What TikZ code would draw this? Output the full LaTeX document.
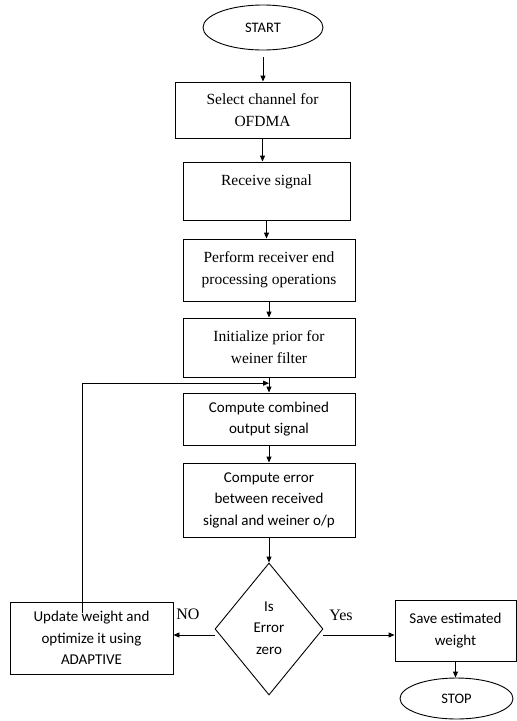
\documentclass[tikz,border=0pt]{standalone}
\usepackage{fontspec}
\setmainfont{Liberation Serif}
\newfontfamily\calfont{Carlito}
\usetikzlibrary{shapes.geometric,arrows.meta,calc}
\tikzset{
  box/.style={draw,line width=0.9pt,align=center,inner sep=2pt},
  serifbox/.style={box,font=\fontsize{15.5}{22}\selectfont},
  sansbox/.style={box,font=\calfont\fontsize{15}{21.5}\selectfont},
  term/.style={draw,line width=0.9pt,ellipse,inner sep=0pt,font=\calfont\fontsize{14.5}{16}\selectfont},
  arr/.style={line width=0.9pt,-{Triangle[length=6pt,width=5pt]}},
  lab/.style={font=\fontsize{16}{18}\selectfont,inner sep=0pt}
}
\begin{document}
\begin{tikzpicture}[x=1pt,y=-1pt]
\useasboundingbox (0,0) rectangle (517,721);
\node[term,minimum width=120pt,minimum height=45pt] (start) at (263,27.5) {START};
\node[serifbox,minimum width=175pt,minimum height=56pt] (b1) at (262.5,110) {Select channel for\\OFDMA};
\node[serifbox,minimum width=167pt,minimum height=58pt] (b2) at (266.5,191) {Receive signal\\\mbox{}};
\node[serifbox,minimum width=172pt,minimum height=62pt] (b3) at (269,270) {Perform receiver end\\processing operations};
\node[serifbox,minimum width=172pt,minimum height=59pt] (b4) at (269,347.5) {Initialize prior for\\weiner filter};
\node[sansbox,minimum width=172pt,minimum height=52pt] (b5) at (269,419) {Compute combined\\output signal};
\node[sansbox,minimum width=172pt,minimum height=74pt] (b6) at (269,500) {Compute error\\between received\\signal and weiner o/p};
\node[draw,line width=0.9pt,diamond,minimum width=108pt,minimum height=132pt,inner sep=0pt] (dia) at (269,629) {};
\node[font=\calfont\fontsize{15}{21.5}\selectfont,align=center] (diat) at (269,628) {Is\\Error\\zero};
\node[sansbox,minimum width=163pt,minimum height=72pt] (upd) at (91.5,638) {Update weight and\\optimize it using\\ADAPTIVE};
\node[sansbox,minimum width=121pt,minimum height=61pt] (save) at (455.5,630.5) {Save estimated\\weight};
\node[term,minimum width=113pt,minimum height=41pt] (stop) at (456.5,698.5) {STOP};
\node[lab] (no) at (188,614) {NO};
\node[lab] (yes) at (341,615) {Yes};

\draw[arr] ([yshift=-7pt]start.south) -- (start.south |- b1.north);
\draw[arr] (b1.south) -- (b1.south |- b2.north);
\draw[arr] (b2.south) -- (b2.south |- b3.north);
\draw[arr] (b3.south) -- (b3.south |- b4.north);
\draw[arr] (b4.south) -- (b4.south |- b5.north);
\draw[arr] (b5.south) -- (b5.south |- b6.north);
\draw[arr] (b6.south) -- (b6.south |- dia.north);
\draw[arr] ([yshift=-6pt]dia.west) -- ([yshift=-6pt]dia.west -| upd.east);
\draw[arr] ([yshift=-6pt]dia.east) -- ([yshift=-6pt]dia.east -| save.west);
\draw[arr] (save.south) -- (save.south |- stop.north);
\path (b4.south) -- (b5.north) coordinate[pos=0.38] (j);
\draw[arr] ([xshift=-9.5pt,yshift=-11pt]upd.north) |- (j);
\end{tikzpicture}
\end{document}
